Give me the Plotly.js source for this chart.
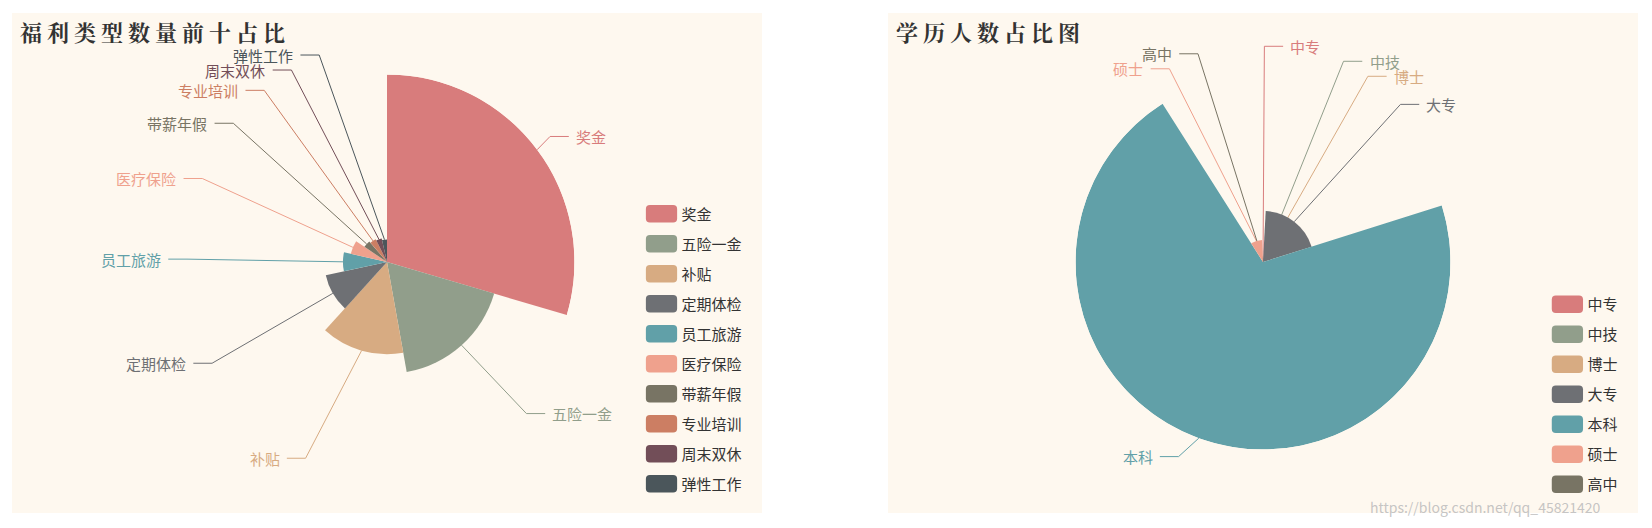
<!DOCTYPE html>
<html>
<head>
<meta charset="utf-8">
<script src="https://cdn.plot.ly/plotly-3.0.1.min.js"></script>
<style>
body { margin: 0; background: #ffffff; }
.chart { position: absolute; width: 750px; height: 500px; }
#welfare { left: 12px; top: 13px; }
#degree { left: 888px; top: 13px; }
.gtitle { letter-spacing: 5px; }
#mark {
    position: absolute; left: 1370px; top: 497px;
    font-family: "Noto Sans CJK SC", sans-serif; font-size: 14px;
    color: rgba(190, 190, 190, 0.9); white-space: nowrap;
}
</style>
</head>
<body>
<div id="welfare" class="chart"></div>
<div id="degree" class="chart"></div>
<div id="mark">https://blog.csdn.net/qq_45821420</div>
<script>
//Top ten welfare types and how many postings offer them
var welfareNames = ['奖金', '五险一金', '补贴', '定期体检', '员工旅游', '医疗保险', '带薪年假', '专业培训', '周末双休', '弹性工作'];
var welfareCounts = [1000, 596, 492, 334, 235, 198, 145, 135, 128, 120];

//Education levels and head counts
var degreeNames = ['中专', '中技', '博士', '大专', '本科', '硕士', '高中'];
var degreeCounts = [3, 5, 4, 272, 1000, 118, 9];

//vintage theme colours
var palette = ['#d87c7c', '#919e8b', '#d7ab82', '#6e7074', '#61a0a8', '#efa18d', '#787464', '#cc7e63', '#724e58', '#4b565b'];

var W = 750, H = 500, CX = 375, CY = 249, R = 187.5;
var S = 1.25; //page was captured at 125%
var LEN = 15 * S, LEN2 = 15 * S, DIST = 5 * S, LABEL_H = 12 * S;
var LABEL_NUDGE = -2; //text baseline sits a touch higher than plotly centres it
var FONT = '"Noto Sans CJK SC", "Microsoft YaHei", sans-serif';
var TITLE_FONT = '"Noto Serif CJK SC", "Noto Sans CJK SC", serif';

function sum(a) {
    var s = 0;
    for (var i = 0; i < a.length; i++) { s += a[i]; }
    return s;
}

//Purpose: push overlapping labels apart on one side, then slide them along the ellipse
function adjustSide(list, dir) {
    list.sort(function (a, b) { return a.y - b.y; });
    var len = list.length;
    function shiftUp(end, delta) {
        for (var j = end; j >= 0; j--) {
            if (list[j].y - delta < 0) { break; }
            list[j].y -= delta;
            if (j > 0 && list[j].y > list[j - 1].y + LABEL_H) { break; }
        }
    }
    function shiftDown(start, end, delta) {
        for (var j = start; j < end; j++) {
            if (list[j].y + delta > H) { break; }
            list[j].y += delta;
            if (j > start && j + 1 < end && list[j + 1].y > list[j].y + LABEL_H) {
                shiftUp(j, delta / 2);
                return;
            }
        }
        shiftUp(end - 1, delta / 2);
    }
    var lastY = 0;
    for (var i = 0; i < len; i++) {
        var delta = list[i].y - lastY;
        if (delta < 0) { shiftDown(i, len, -delta); }
        lastY = list[i].y + LABEL_H;
    }
    if (H - lastY < 0) { shiftUp(len - 1, lastY - H); }

    function changeX(arr, isDown) {
        var last = isDown ? Infinity : 0;
        arr.forEach(function (it) {
            var dy = Math.abs(it.y - CY);
            var dx = dy < R + LEN ? Math.sqrt(Math.pow(R + LEN + LEN2, 2) - dy * dy) : Math.abs(it.x - CX);
            if (isDown && dx >= last) { dx = last - 10 * S; }
            if (!isDown && dx <= last) { dx = last + 10 * S; }
            it.x = CX + dx * dir;
            last = dx;
        });
    }
    changeX(list.filter(function (it) { return it.y < CY; }), false);
    changeX(list.filter(function (it) { return it.y >= CY; }), true);
}

//Purpose: angles of every slice plus where its outside label and leader line go
function roseLayout(values) {
    var total = sum(values), vmax = Math.max.apply(null, values);
    var items = [], start = 0;
    for (var i = 0; i < values.length; i++) {
        var span = values[i] / total * 360;
        var mid = start + span / 2;
        start += span;
        var a = mid * Math.PI / 180;
        var nx = Math.sin(a), ny = -Math.cos(a);
        var ri = values[i] / vmax * R;
        var dir = nx < 0 ? -1 : 1;
        var x2 = CX + (R + LEN) * nx;
        items.push({
            idx: i, mid: mid, span: span, dir: dir,
            x1: CX + ri * nx, y1: CY + ri * ny,
            x: x2 + dir * (LEN2 + DIST), y: CY + (R + LEN) * ny
        });
    }
    adjustSide(items.filter(function (it) { return it.x < CX; }), -1);
    adjustSide(items.filter(function (it) { return it.x >= CX; }), 1);
    return items;
}

function px(x) { return x / W; }
function py(y) { return 1 - y / H; }

//Rounded swatch like the original legend
var sw = 31.25, sh = 17.5, rr = 4;
var swatch = 'M' + (-sw / 2 + rr) + ',' + (-sh / 2) + 'H' + (sw / 2 - rr) +
    'A' + rr + ',' + rr + ' 0 0 1 ' + (sw / 2) + ',' + (-sh / 2 + rr) + 'V' + (sh / 2 - rr) +
    'A' + rr + ',' + rr + ' 0 0 1 ' + (sw / 2 - rr) + ',' + (sh / 2) + 'H' + (-sw / 2 + rr) +
    'A' + rr + ',' + rr + ' 0 0 1 ' + (-sw / 2) + ',' + (sh / 2 - rr) + 'V' + (-sh / 2 + rr) +
    'A' + rr + ',' + rr + ' 0 0 1 ' + (-sw / 2 + rr) + ',' + (-sh / 2) + 'Z';

function drawRose(divId, title, names, values, legendX, legendY) {
    var items = roseLayout(values);
    var vmax = Math.max.apply(null, values);
    var traces = [], shapes = [], annotations = [];
    items.forEach(function (it) {
        var color = palette[it.idx % palette.length];
        traces.push({
            type: 'barpolar', name: names[it.idx], legendgroup: names[it.idx],
            r: [values[it.idx]], theta: [it.mid], width: [it.span],
            marker: { color: color, line: { width: 0 } },
            hoverinfo: 'skip'
        });
        var ly = it.y + LABEL_NUDGE;
        var x3 = it.x - it.dir * DIST;
        var x2 = x3 - it.dir * LEN2;
        shapes.push({
            type: 'path', xref: 'paper', yref: 'paper', layer: 'below',
            path: 'M' + px(it.x1) + ',' + py(it.y1) + 'L' + px(x2) + ',' + py(ly) + 'L' + px(x3) + ',' + py(ly),
            line: { color: color, width: 1 }
        });
        annotations.push({
            xref: 'paper', yref: 'paper', x: px(it.x), y: py(ly),
            xanchor: it.dir > 0 ? 'left' : 'right', yanchor: 'middle',
            text: names[it.idx], showarrow: false, borderpad: 0,
            font: { family: FONT, size: 15, color: color }
        });
    });
    var layout = {
        width: W, height: H, autosize: false,
        margin: { l: 0, r: 0, t: 0, b: 0 },
        paper_bgcolor: '#fef8ef',
        hovermode: false,
        title: {
            text: title, xref: 'container', yref: 'container',
            x: px(8), xanchor: 'left', y: py(20), yanchor: 'middle',
            font: { family: TITLE_FONT, size: 22, color: '#333333', weight: 700 }
        },
        polar: {
            domain: { x: [px(CX - R), px(CX + R)], y: [py(CY + R), py(CY - R)] },
            bgcolor: 'rgba(0,0,0,0)', bargap: 0, hole: 0,
            radialaxis: { visible: false, range: [0, vmax] },
            angularaxis: {
                rotation: 90, direction: 'clockwise', visible: false,
                showgrid: false, showline: false, showticklabels: false, ticks: ''
            }
        },
        showlegend: true,
        legend: {
            x: legendX, y: legendY, xanchor: 'left', yanchor: 'top',
            traceorder: 'grouped', tracegroupgap: 7.5,
            bgcolor: 'rgba(0,0,0,0)',
            font: { family: FONT, size: 15, color: '#333333' }
        },
        shapes: shapes,
        annotations: annotations
    };
    return Plotly.newPlot(divId, traces, layout, { staticPlot: true }).then(function (gd) {
        var paths = gd.querySelectorAll('.legend .legendpoints path');
        for (var i = 0; i < paths.length; i++) { paths[i].setAttribute('d', swatch); }
    });
}

drawRose('welfare', '福利类型数量前十占比', welfareNames, welfareCounts, px(629.5), py(184.5));
drawRose('degree', '学历人数占比图', degreeNames, degreeCounts, px(659.4), py(275));
</script>
</body>
</html>
